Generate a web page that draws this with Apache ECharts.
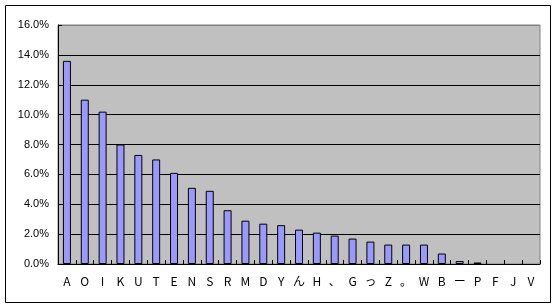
<!DOCTYPE html>
<html><head><meta charset="utf-8">
<script src="https://cdn.jsdelivr.net/npm/echarts@6/dist/echarts.min.js"></script>
<style>html,body{margin:0;padding:0;background:#fff}#c{width:556px;height:308px}</style>
</head><body><div id="c"></div>
<script>
var categories = ['A','O','I','K','U','T','E','N','S','R','M','D','Y','ん','H','、','G','っ','Z','。','W','B','ー','P','F','J','V'];
var values = [13.6,11.0,10.2,8.0,7.3,7.0,6.1,5.1,4.9,3.6,2.9,2.7,2.6,2.3,2.1,1.9,1.7,1.5,1.3,1.3,1.3,0.7,0.2,0.1,0,0,0];
var yMin = 0, yMax = 16, yStep = 2;

var barData = values.map(function(v){
  return v === 0 ? {value:v, itemStyle:{borderWidth:0, opacity:0}} : v;
});

var chart = echarts.init(document.getElementById('c'), null, {renderer:'canvas'});
chart.setOption({
  animation: false,
  backgroundColor: '#ffffff',
  graphic: [{type:'rect', shape:{x:5.5,y:5.5,width:545,height:297}, style:{fill:'none',stroke:'#000',lineWidth:1}, silent:true}],
  grid: {left:58, top:25, right:16, bottom:44, show:true, backgroundColor:'#C0C0C0', borderColor:'#808080', borderWidth:1},
  xAxis: {
    type:'category', data: categories,
    axisLine:{lineStyle:{color:'#000',width:1}},
    axisTick:{show:true, inside:true, length:4, lineStyle:{color:'#000'}},
    axisLabel:{color:'#000', fontSize:12, margin:11, interval:0, fontFamily:'"Noto Sans CJK JP", sans-serif'}
  },
  yAxis: {
    type:'value', min:yMin, max:yMax, interval:yStep,
    axisLine:{show:true, lineStyle:{color:'#000',width:1}},
    axisTick:{show:true, inside:true, length:4, lineStyle:{color:'#000'}},
    splitLine:{show:true, lineStyle:{color:['#000','#000','#000','#000','#000','#000','#000','#000','#808080'],width:1}},
    axisLabel:{color:'#000', fontSize:11, margin:9, fontFamily:'Arial, "Liberation Sans", sans-serif',
      formatter:function(v){return v.toFixed(1)+'%';}}
  },
  series: [{
    type:'bar', data: barData, barWidth:8,
    itemStyle:{color:'#9999FF', borderColor:'#000', borderWidth:1}
  }]
});
</script></body></html>
